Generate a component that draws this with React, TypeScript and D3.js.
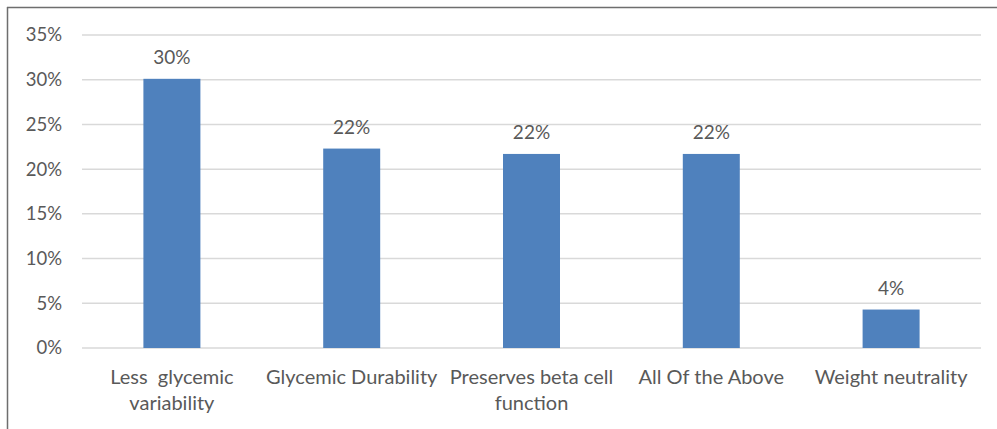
import React from "react";
import * as d3 from "d3";

const categories: string[][] = [
  ["Less  glycemic", "variability"],
  ["Glycemic Durability"],
  ["Preserves beta cell", "function"],
  ["All Of the Above"],
  ["Weight neutrality"],
];
const values: number[] = [30.1, 22.3, 21.7, 21.7, 4.3];
const yTicks: number[] = [0, 5, 10, 15, 20, 25, 30, 35];

const W = 997;
const H = 429;
const plot = { left: 82, right: 981, top: 35, bottom: 348 };
const FONT = "Lato, 'Open Sans', sans-serif";
const TEXT = "#595959";

export default function App() {
  const x = d3
    .scaleBand<number>()
    .domain(values.map((_, i) => i))
    .range([plot.left, plot.right])
    .paddingInner(0.683)
    .paddingOuter(0.3415);
  const y = d3.scaleLinear().domain([0, 35]).range([plot.bottom, plot.top]);

  return (
    <svg
      width={W}
      height={H}
      style={{ position: "absolute", left: 0, top: 0, background: "#fff" }}
      fontFamily={FONT}
    >
      <rect x={0} y={0} width={W} height={H} fill="#fff" />
      {/* chart frame */}
      <line x1={7} y1={7.5} x2={W} y2={7.5} stroke="#6e6e6e" strokeWidth={1.5} />
      <line x1={7.5} y1={7} x2={7.5} y2={H} stroke="#6e6e6e" strokeWidth={1.5} />

      {yTicks.map((t) => (
        <g key={t}>
          <line
            x1={plot.left}
            x2={plot.right}
            y1={y(t)}
            y2={y(t)}
            stroke="#d9d9d9"
            strokeWidth={1.5}
          />
          <text
            x={62}
            y={y(t)}
            dy="0.35em"
            textAnchor="end"
            fontSize={18.5}
            fill={TEXT}
          >
            {t}%
          </text>
        </g>
      ))}

      {values.map((v, i) => {
        const bx = x(i)!;
        const bw = x.bandwidth();
        const cx = bx + bw / 2;
        return (
          <g key={i}>
            <rect
              x={bx}
              y={y(v)}
              width={bw}
              height={y(0) - y(v)}
              fill="#4f81bd"
            />
            <text
              x={cx}
              y={y(v) - 15}
              textAnchor="middle"
              fontSize={19}
              fill={TEXT}
            >
              {d3.format(".0f")(v)}%
            </text>
            {categories[i].map((line, j) => (
              <text
                key={j}
                x={cx}
                y={377 + j * 26}
                dy="0.35em"
                textAnchor="middle"
                fontSize={20}
                fill={TEXT}
                style={{ whiteSpace: "pre" }}
              >
                {line}
              </text>
            ))}
          </g>
        );
      })}
    </svg>
  );
}
